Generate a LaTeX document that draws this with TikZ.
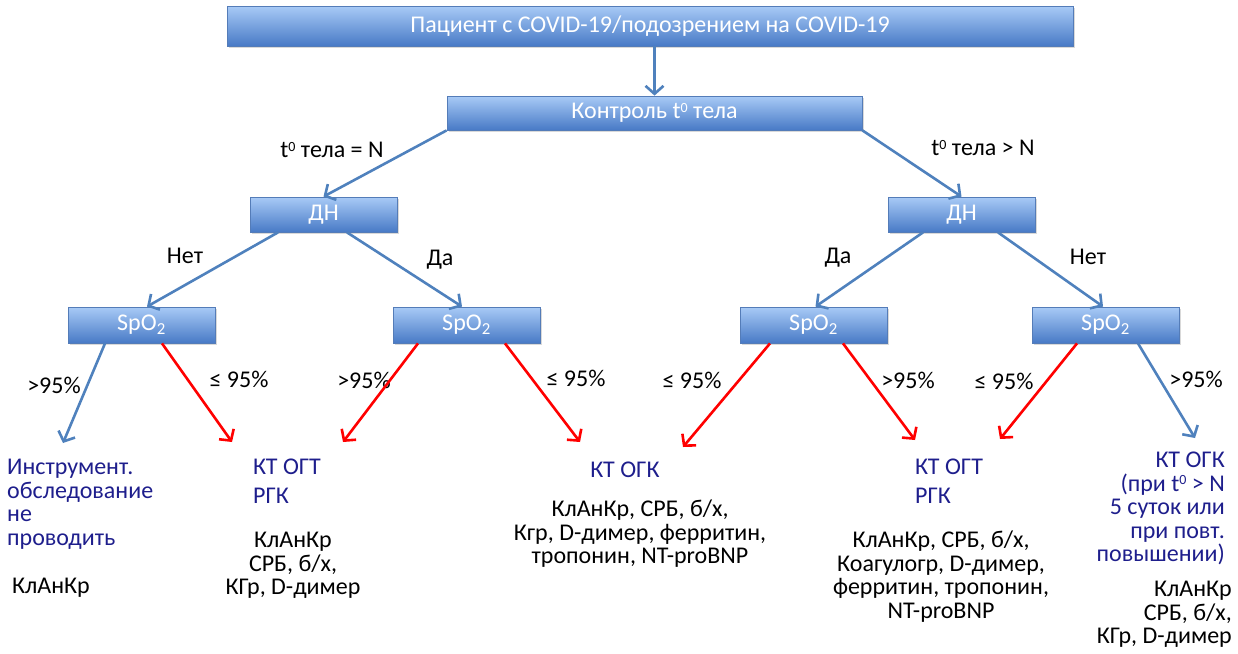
\documentclass[tikz,border=0pt]{standalone}
\usepackage{fontspec}
\setmainfont{Carlito}
\usetikzlibrary{shapes,arrows.meta,shadows}
\definecolor{boxtop}{RGB}{168,202,246}
\definecolor{boxbot}{RGB}{72,122,198}
\definecolor{boxline}{RGB}{84,124,184}
\definecolor{lineblue}{RGB}{79,129,189}
\definecolor{txtblue}{RGB}{30,30,140}
\def\Zero{\raisebox{6.5pt}{\fontsize{14}{14}\selectfont 0}}
\def\Tt{t\Zero{} тела}
\def\Sp{SpO\textsubscript{2}}

\begin{document}
\begin{tikzpicture}[x=1pt,y=-1pt,% one unit = one pixel, y runs downwards
      every node/.style={
        font=\fontsize{24}{23.5}\selectfont,
        inner sep=0pt
      },
      box/.style={% blue bar with white text
        rectangle,draw=boxline,line width=0.8pt,
        top color=boxtop,bottom color=boxbot,text=white,
        drop shadow={shadow xshift=1.5pt,shadow yshift=-2pt,opacity=.3}
      },
      dnbox/.style={box,minimum width=147pt,minimum height=35pt},
      spbox/.style={box,minimum width=147pt,minimum height=36pt},
      res/.style={text=txtblue},
      >={Straight Barb[length=8pt,width=18pt]},
      every edge/.style={draw,line width=2.6pt,lineblue}
    ]
    \useasboundingbox (0,0) rectangle (1238,653);
    % boxes
    \node[box,minimum width=846pt,minimum height=40pt](pat) at (650,26){Пациент с COVID-19/подозрением на COVID-19};
    \node[box,minimum width=415pt,minimum height=34pt](ctrl) at (654.5,113){Контроль \Tt};
    \node[dnbox](dnL) at (323.5,214.5){ДН};
    \node[dnbox](dnR) at (961.5,214.5){ДН};
    \node[spbox](sp1) at (141.5,325){\Sp};
    \node[spbox](sp2) at (466.5,325){\Sp};
    \node[spbox](sp3) at (813.5,325){\Sp};
    \node[spbox](sp4) at (1105.5,325){\Sp};
    % free arrow ends
    \coordinate (e11) at (63,443);
    \coordinate (e12) at (232,442);
    \coordinate (e21) at (343,442);
    \coordinate (e22) at (580,442);
    \coordinate (e31) at (683,447);
    \coordinate (e32) at (915,440);
    \coordinate (e41) at (1000,439);
    \coordinate (e42) at (1195,438);
    % edge labels
    \node(tN) at (332,150){\Tt{} = N};
    \node(tG) at (983,148){\Tt{} > N};
    \node(noL) at (185,256){Нет};
    \node(yesL) at (440,260){Да};
    \node(yesR) at (838,258){Да};
    \node(noR) at (1088,257){Нет};
    \node(p11) at (54,385){>95\%};
    \node(p12) at (239,379){≤ 95\%};
    \node(p21) at (364,380){>95\%};
    \node(p22) at (576,378){≤ 95\%};
    \node(p31) at (692,380){≤ 95\%};
    \node(p32) at (908,380){>95\%};
    \node(p41) at (1004,381){≤ 95\%};
    \node(p42) at (1196,379){>95\%};
    % results
    \node[res,anchor=north west,align=left](resA) at (7,459){Инструмент.\\обследование\\не\\проводить};
    \node[anchor=north west](labA) at (12,578){КлАнКр};
    \node[res,anchor=north west,align=left](resB) at (253,459){КТ ОГТ\\[5pt]РГК};
    \node[anchor=north,align=center](labB) at (293,532){КлАнКр\\СРБ, б/х,\\КГр, D-димер};
    \node[res,anchor=north](resC) at (625,462){КТ ОГК};
    \node[anchor=north,align=center](labC) at (640,500){КлАнКр, СРБ, б/х,\\Кгр, D-димер, ферритин,\\тропонин, NT-proBNP};
    \node[res,anchor=north west,align=left](resD) at (915,459){КТ ОГТ\\[5pt]РГК};
    \node[anchor=north,align=center](labD) at (941,531){КлАнКр, СРБ, б/х,\\Коагулогр, D-димер,\\ферритин, тропонин,\\NT-proBNP};
    \node[res,anchor=north east,align=right](resE) at (1225,452){КТ ОГК\\(при t\Zero{} > N\\5 суток или\\при повт.\\повышении)};
    \node[anchor=north east,align=right](labE) at (1232,581){КлАнКр\\СРБ, б/х,\\КГр, D-димер};
    \path[->]
    (pat.south -| ctrl.north)edge (ctrl.north)
    (ctrl.south west)edge (dnL.north)
    (ctrl.south east)edge (dnR.north)
    ([xshift=-45.5pt]dnL.south)edge ([xshift=5.5pt]sp1.north)
    ([xshift=23.5pt]dnL.south)edge ([xshift=-4.5pt]sp2.north)
    ([xshift=-38.5pt]dnR.south)edge ([xshift=2pt]sp3.north)
    ([xshift=36.5pt]dnR.south)edge ([xshift=-2.5pt]sp4.north)
    ([xshift=-36.5pt]sp1.south)edge (e11)
    ([xshift=20.5pt]sp1.south)edge [red] (e12)
    ([xshift=-48.5pt]sp2.south)edge [red] (e21)
    ([xshift=38.5pt]sp2.south)edge [red] (e22)
    ([xshift=-43.5pt]sp3.south)edge [red] (e31)
    ([xshift=29.5pt]sp3.south)edge [red] (e32)
    ([xshift=-28.5pt]sp4.south)edge [red] (e41)
    ([xshift=32.5pt]sp4.south)edge (e42)
    ;
  \end{tikzpicture}
\end{document}
